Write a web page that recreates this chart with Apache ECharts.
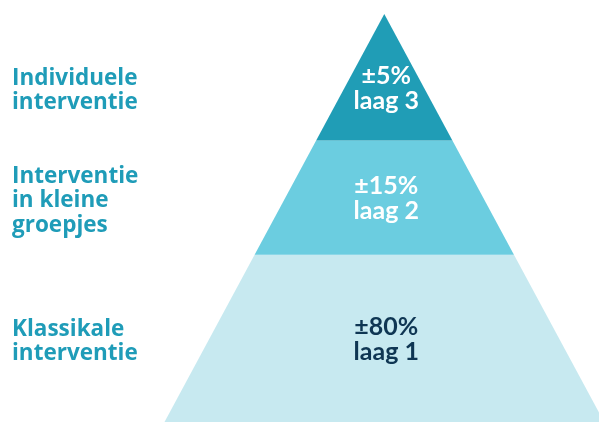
<!DOCTYPE html>
<html>
<head>
<meta charset="utf-8">
<script src="https://cdn.jsdelivr.net/npm/echarts@6/dist/echarts.min.js"></script>
<style>
html,body{margin:0;padding:0;background:#fff;}
#chart{width:599px;height:423px;}
</style>
</head>
<body>
<div id="chart"></div>
<script>
// Data (bottom level first)
const levels = ['laag 1', 'laag 2', 'laag 3'];
const shares = ['±80%', '±15%', '±5%'];
const groups = ['Klassikale\ninterventie', 'Interventie\nin kleine\ngroepjes', 'Individuele\ninterventie'];
const levelTops = [41, 69, 100]; // cumulative height (% of pyramid) at top of each level

// Styles
const fillColors = ['#c7e9f0', '#6bcde0', '#209db6'];
const textColors = ['#0f3653', '#ffffff', '#ffffff'];
const groupColor = '#1f9cb8';

const seriesData = levels.map((l, i) => [i, i === 0 ? 0 : levelTops[i - 1], levelTops[i]]);

const chart = echarts.init(document.getElementById('chart'), null, {renderer: 'canvas'});

function halfWidth(v) { return 1 - v / 100; }

chart.setOption({
  animation: false,
  // pyramid base runs past the right edge of the canvas, so the x range is cut at the right
  grid: {left: 164.5, right: 0, top: 14, bottom: 1},
  xAxis: {type: 'value', min: -1, max: 0.977, show: false},
  yAxis: {type: 'value', min: 0, max: 100, show: false},
  series: [{
    type: 'custom',
    data: seriesData,
    clip: false,
    renderItem: function (params, api) {
      const i = api.value(0);
      const y0 = api.value(1);
      const y1 = api.value(2);
      const p1 = api.coord([-halfWidth(y0), y0]);
      const p2 = api.coord([halfWidth(y0), y0]);
      const p3 = api.coord([halfWidth(y1), y1]);
      const p4 = api.coord([-halfWidth(y1), y1]);
      const isApex = y1 >= 100;
      const ty = isApex ? y0 + (y1 - y0) * 0.42 : (y0 + y1) / 2;
      const tc = api.coord([0, ty]);
      return {
        type: 'group',
        children: [
          {
            type: 'polygon',
            shape: {points: [p1, p2, p3, p4]},
            style: {fill: fillColors[i], stroke: null}
          },
          {
            type: 'text',
            style: {
              text: shares[i] + '\n' + levels[i],
              x: tc[0] + 2, y: tc[1] + 1,
              fill: textColors[i],
              font: 'bold 25px Lato',
              lineHeight: 25,
              align: 'center',
              verticalAlign: 'middle'
            }
          },
          {
            type: 'text',
            style: {
              text: groups[i],
              x: 12, y: tc[1] + 3,
              fill: groupColor,
              font: 'bold 22.5px "Open Sans"',
              lineHeight: 24.5,
              align: 'left',
              verticalAlign: 'middle'
            }
          }
        ]
      };
    }
  }]
});
</script>
</body>
</html>
